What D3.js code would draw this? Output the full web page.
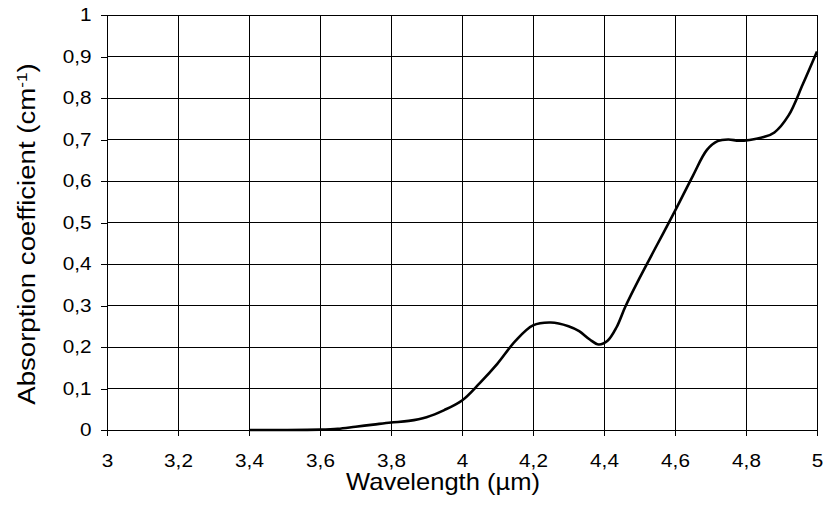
<!DOCTYPE html>
<html>
<head>
<meta charset="utf-8">
<script src="https://cdn.jsdelivr.net/npm/d3@7"></script>
<style>
  html, body { margin: 0; padding: 0; background: #fff; }
  svg { display: block; }
  text { font-family: "Liberation Sans", Arial, sans-serif; fill: #000; }
</style>
</head>
<body>
<svg id="chart" width="824" height="511"></svg>
<script>
// Absorption spectrum: wavelength (µm) vs absorption coefficient (cm^-1)
const wavelength = [3.40, 3.50, 3.60, 3.65, 3.70, 3.75, 3.80, 3.85, 3.90, 3.95,
                    4.00, 4.05, 4.10, 4.15, 4.20, 4.25, 4.30, 4.33, 4.36, 4.385,
                    4.41, 4.435, 4.46, 4.50, 4.55, 4.60, 4.65, 4.69, 4.72, 4.75,
                    4.78, 4.81, 4.85, 4.88, 4.92, 4.96, 5.00];
const absorption = [0.000, 0.000, 0.001, 0.003, 0.008, 0.013, 0.018, 0.022, 0.031, 0.048,
                    0.071, 0.113, 0.160, 0.214, 0.252, 0.259, 0.250, 0.238, 0.218, 0.206,
                    0.215, 0.247, 0.297, 0.366, 0.447, 0.528, 0.612, 0.675, 0.696, 0.700,
                    0.697, 0.699, 0.706, 0.717, 0.758, 0.833, 0.912];

const xTicks = [3, 3.2, 3.4, 3.6, 3.8, 4, 4.2, 4.4, 4.6, 4.8, 5];
const yTicks = [0, 0.1, 0.2, 0.3, 0.4, 0.5, 0.6, 0.7, 0.8, 0.9, 1];

const xTitle = "Wavelength (µm)";
const yTitle = "Absorption coefficient (cm";
const yTitleSup = "-1";

const svg = d3.select("#chart");
const plot = { left: 107, right: 817, top: 15, bottom: 430 };
const stretch = 1.12;

const x = d3.scaleLinear().domain([3, 5]).range([plot.left, plot.right]);
const y = d3.scaleLinear().domain([0, 1]).range([plot.bottom, plot.top]);

const fmt = d3.formatLocale({ decimal: ",", thousands: ".", grouping: [3], currency: ["", ""] }).format("~g");

// grid
const grid = svg.append("g").attr("shape-rendering", "crispEdges");
grid.selectAll("line.h").data(yTicks).join("line")
  .attr("x1", plot.left).attr("x2", plot.right)
  .attr("y1", d => y(d)).attr("y2", d => y(d))
  .attr("stroke", "#000").attr("stroke-width", 1);
grid.selectAll("line.v").data(xTicks).join("line")
  .attr("x1", d => x(d)).attr("x2", d => x(d))
  .attr("y1", plot.top).attr("y2", plot.bottom)
  .attr("stroke", "#000").attr("stroke-width", 1);

// axes
const xAxis = svg.append("g")
  .attr("transform", `translate(0,${plot.bottom})`)
  .call(d3.axisBottom(x).tickValues(xTicks).tickFormat(fmt).tickSize(6).tickSizeOuter(0));
const yAxis = svg.append("g")
  .attr("transform", `translate(${plot.left},0)`)
  .call(d3.axisLeft(y).tickValues(yTicks).tickFormat(fmt).tickSize(6).tickSizeOuter(0));

[xAxis, yAxis].forEach(a => {
  a.selectAll("path.domain").attr("stroke", "#000").attr("shape-rendering", "crispEdges");
  a.selectAll(".tick line").attr("stroke", "#000").attr("shape-rendering", "crispEdges");
  a.selectAll("text").attr("font-family", '"Liberation Sans", Arial, sans-serif')
    .attr("font-size", 18.5).attr("fill", "#000");
});
xAxis.selectAll("text")
  .attr("y", 37).attr("dy", 0)
  .attr("transform", `scale(${stretch},1)`);
yAxis.selectAll("text")
  .attr("x", -15.5 / stretch)
  .attr("transform", `scale(${stretch},1)`);

// curve
const pts = wavelength.map((w, i) => [w, absorption[i]]);
svg.append("path")
  .datum(pts)
  .attr("fill", "none")
  .attr("stroke", "#000")
  .attr("stroke-width", 2.6)
  .attr("stroke-linejoin", "round")
  .attr("d", d3.line().x(d => x(d[0])).y(d => y(d[1])).curve(d3.curveCatmullRom.alpha(0.5)));

// titles
svg.append("g")
  .attr("transform", `translate(443,490) scale(1.11,1)`)
  .append("text")
  .attr("text-anchor", "middle")
  .attr("font-size", 23)
  .text(xTitle);

const yt = svg.append("g")
  .attr("transform", `translate(35,234) rotate(-90) scale(1.15,1)`)
  .append("text")
  .attr("text-anchor", "middle")
  .attr("font-size", 24);
yt.append("tspan").text(yTitle);
yt.append("tspan").attr("font-size", 15).attr("baseline-shift", "super").text(yTitleSup);
yt.append("tspan").text(")");
</script>
</body>
</html>
